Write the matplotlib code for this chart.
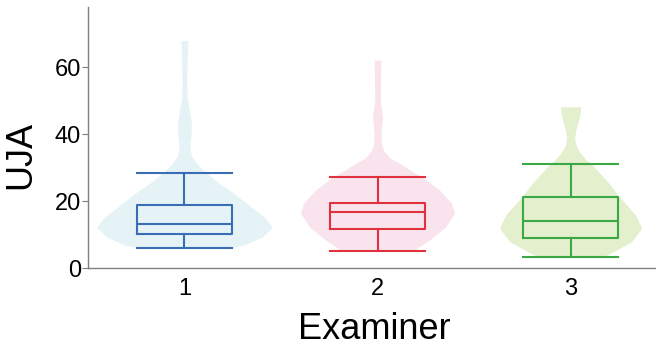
import numpy as np
import matplotlib
matplotlib.use("Agg")
import matplotlib.pyplot as plt

plt.rcParams['font.family'] = ['Liberation Sans', 'DejaVu Sans']

# examiner labels
examiners = ["1", "2", "3"]

# box statistics
whis_hi = [28.4, 27.2, 31.2]
q3 = [18.9, 19.3, 21.1]
medians = [13.1, 16.8, 14.2]
q1 = [10.3, 11.7, 9.0]
whis_lo = [6.0, 5.1, 3.3]

# violin outlines: value levels and relative density (1.0 = widest violin)
v1_y = [68.0, 62.0, 56.0, 51.0, 47.0, 43.3, 39.5, 36.2, 33.5, 31.3, 28.4, 25.5,
        23.3, 19.4, 15.2, 12.2, 9.3, 6.9, 6.0]
v1_d = [0.038, 0.032, 0.026, 0.031, 0.057, 0.080, 0.074, 0.060, 0.080, 0.136,
        0.250, 0.386, 0.511, 0.705, 0.909, 1.000, 0.886, 0.682, 0.511]
v2_y = [62.1, 56.0, 50.1, 45.1, 40.2, 37.0, 35.2, 33.0, 31.3, 29.0, 27.2, 23.3,
        19.4, 16.4, 12.3, 8.4, 5.1]
v2_d = [0.038, 0.034, 0.032, 0.057, 0.038, 0.045, 0.068, 0.136, 0.250, 0.386,
        0.511, 0.705, 0.841, 0.875, 0.773, 0.591, 0.398]
v3_y = [48.2, 46.0, 43.7, 41.0, 38.7, 36.5, 34.7, 32.5, 30.7, 25.8, 20.9, 15.8,
        11.9, 7.9, 4.9, 3.3]
v3_d = [0.114, 0.108, 0.085, 0.057, 0.045, 0.063, 0.102, 0.170, 0.250, 0.420,
        0.568, 0.739, 0.807, 0.693, 0.489, 0.364]

line_colors = ["#3b6db4", "#e0323e", "#3aa845"]
fill_colors = ["#e6f3f6", "#f9e3ec", "#e3efcd"]

fig = plt.figure(figsize=(6.56, 3.55), dpi=100)
ax = fig.add_axes([0.134, 0.245, 0.883, 0.735])

violins = [(v1_y, v1_d), (v2_y, v2_d), (v3_y, v3_d)]
max_half = 0.456
for i, (vy, vd) in enumerate(violins):
    pos = i + 1
    vy = np.array(vy)
    vd = np.array(vd) * max_half
    ax.fill_betweenx(vy, pos - vd, pos + vd, color=fill_colors[i], lw=0, zorder=1)

stats = []
for i in range(3):
    stats.append({"med": medians[i], "q1": q1[i], "q3": q3[i],
                  "whislo": whis_lo[i], "whishi": whis_hi[i], "fliers": []})

for i in range(3):
    c = line_colors[i]
    ax.bxp([stats[i]], positions=[i + 1], widths=0.49, showfliers=False,
           patch_artist=False, manage_ticks=False,
           boxprops=dict(color=c, lw=1.5),
           medianprops=dict(color=c, lw=1.5),
           whiskerprops=dict(color=c, lw=1.5),
           capprops=dict(color=c, lw=1.5), capwidths=0.49, zorder=3)

ax.set_xlim(0.5, 3.5)
ax.set_ylim(0, 78)
ax.set_xticks([1, 2, 3])
ax.set_xticklabels(examiners)
ax.set_yticks([0, 20, 40, 60])

for s in ["top", "right"]:
    ax.spines[s].set_visible(False)
for s in ["left", "bottom"]:
    ax.spines[s].set_color("#808080")
    ax.spines[s].set_linewidth(1.0)

ax.tick_params(axis="y", length=4, color="#808080", labelsize=17, pad=1)
ax.tick_params(axis="x", length=0, labelsize=17, pad=7)

ax.set_xlabel("Examiner", fontsize=26)
ax.set_ylabel("UJA", fontsize=26)
ax.xaxis.set_label_coords(0.494, -0.17)
ax.yaxis.set_label_coords(-0.085, 0.433)

fig.savefig("out.png", dpi=100)
